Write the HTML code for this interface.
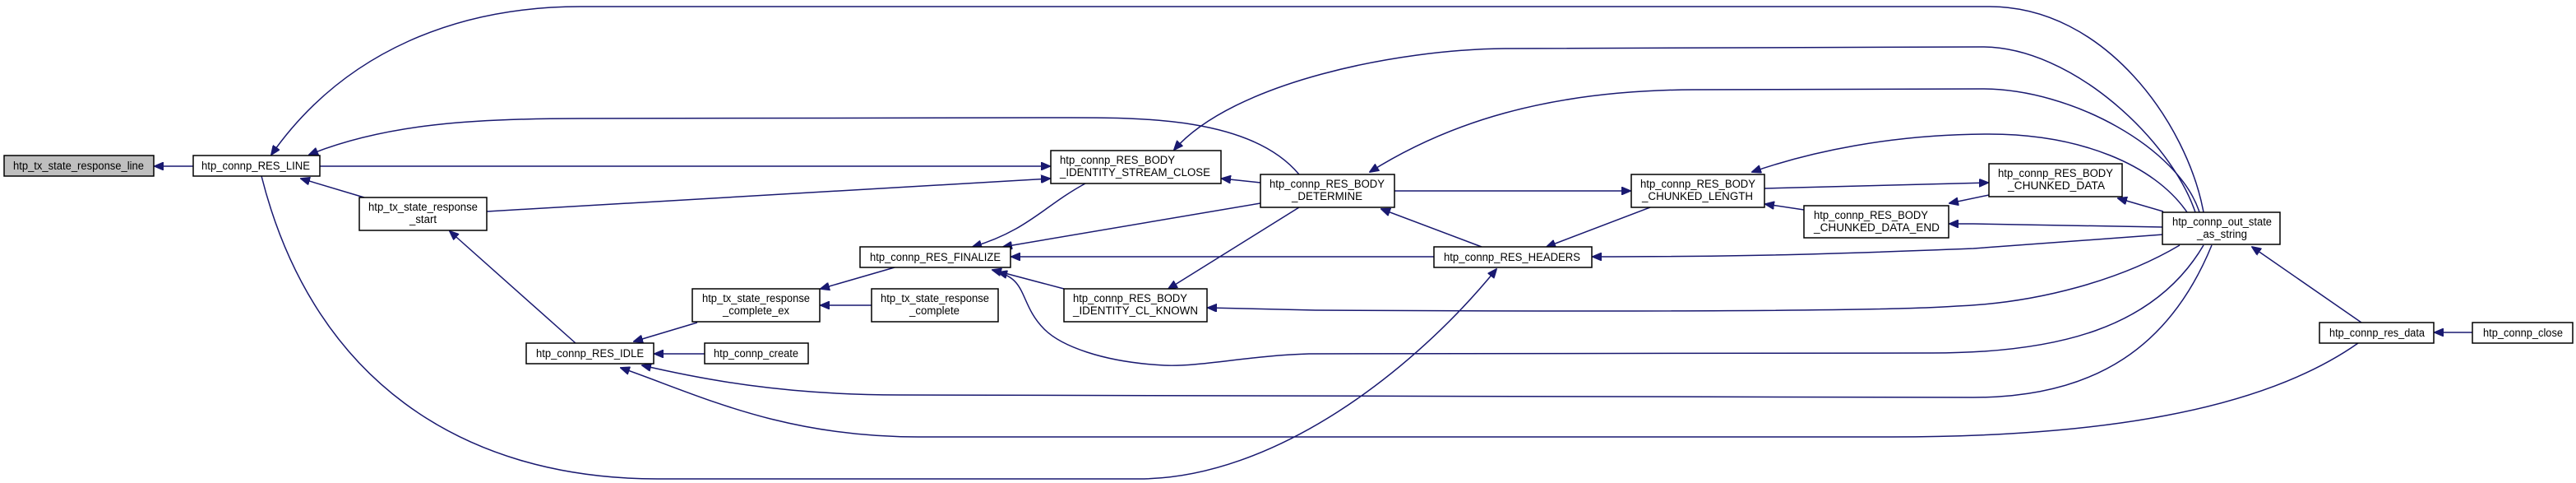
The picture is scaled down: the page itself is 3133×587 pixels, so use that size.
<!DOCTYPE html>
<html><head><meta charset="utf-8"><style>
html,body{margin:0;padding:0;background:#fff;}
svg{display:block;}
text{font-family:"Liberation Sans",Arial,sans-serif;font-size:13.5px;fill:#000;}
.e{fill:none;stroke:#191970;stroke-width:1.5;}
.n{fill:#fff;stroke:#000;stroke-width:1.5;}
</style></head><body>
<svg width="3133" height="587" viewBox="0 0 3133 587" xmlns="http://www.w3.org/2000/svg">
<defs><marker id="a" markerUnits="userSpaceOnUse" markerWidth="12" markerHeight="10" refX="11" refY="5" orient="auto"><path d="M0,0 L12,5 L0,10 z" fill="#191970" stroke="#191970"/></marker></defs>
<g marker-end="url(#a)">
<path class="e" d="M235,202 L188,202"/>
<path class="e" d="M2680,258 C2660,150 2560,8 2420,8 L706,8 C560,8 420,60 330,188"/>
<path class="e" d="M1580,212 C1520,140 1380,143 1287,143 L706,144 C580,144 470,150 376,188"/>
<path class="e" d="M389,202 L1277,202"/>
<path class="e" d="M443,240 L366,217"/>
<path class="e" d="M592,257 L1277,217"/>
<path class="e" d="M700,417 L547,281"/>
<path class="e" d="M318,214 C380,460 560,582 800,582 L1385,582 C1550,582 1720,450 1820,327"/>
<path class="e" d="M848,392 L771,415"/>
<path class="e" d="M857,430 L796,430"/>
<path class="e" d="M2690,298 C2640,420 2550,483 2400,483 L1094,480 C950,480 850,460 781,444"/>
<path class="e" d="M2868,417 C2750,500 2550,531 2300,531 L1117,531 C950,531 850,480 755,447"/>
<path class="e" d="M1533,222 L1486,217"/>
<path class="e" d="M1320,223 C1270,250 1250,280 1183,300"/>
<path class="e" d="M1533,247 L1220,300"/>
<path class="e" d="M1744,312 L1230,312"/>
<path class="e" d="M1580,252 L1421,351"/>
<path class="e" d="M1294,351 L1207,328"/>
<path class="e" d="M2680,298 C2620,400 2500,429 2350,429 L1592,430 C1520,432 1460,446 1416,444 C1340,440 1290,420 1270,400 C1240,370 1250,340 1214,331"/>
<path class="e" d="M1088,325 L998,351"/>
<path class="e" d="M1060,371 L998,371"/>
<path class="e" d="M1802,300 L1680,254"/>
<path class="e" d="M2007,252 L1881,300"/>
<path class="e" d="M1696,232 L1983,232"/>
<path class="e" d="M2146,229 L2418,222"/>
<path class="e" d="M2419,237 L2371,247"/>
<path class="e" d="M2631,276 L2400,272 L2371,272"/>
<path class="e" d="M2194,255 L2147,248"/>
<path class="e" d="M2631,257 L2576,241"/>
<path class="e" d="M2872,392 L2739,300"/>
<path class="e" d="M3007,404 L2961,404"/>
<path class="e" d="M2631,285 L2400,302 C2200,310 2100,312 1937,312"/>
<path class="e" d="M2651,298 C2580,340 2480,368 2380,372 C2300,378 2000,379 1600,377 L1469,374"/>
<path class="e" d="M2670,258 C2640,170 2520,57 2411,57 L1830,59 C1700,60 1500,100 1428,182"/>
<path class="e" d="M2675,258 C2650,180 2520,108 2411,108 L2059,109 C1880,110 1760,150 1666,209"/>
<path class="e" d="M2660,258 C2620,200 2530,163 2419,163 C2300,163 2200,185 2131,209"/>
</g>
<!-- nodes -->
<rect x="5" y="189" width="182" height="25" fill="#bfbfbf" stroke="#000" stroke-width="1.5"/>
<text x="16" y="206" textLength="159" lengthAdjust="spacingAndGlyphs">htp_tx_state_response_line</text>
<rect class="n" x="235" y="189" width="154" height="25"/>
<text x="245" y="206" textLength="132" lengthAdjust="spacingAndGlyphs">htp_connp_RES_LINE</text>
<rect class="n" x="437" y="240" width="155" height="40"/>
<text x="448" y="256" textLength="133" lengthAdjust="spacingAndGlyphs">htp_tx_state_response</text>
<text x="498" y="271" textLength="33" lengthAdjust="spacingAndGlyphs">_start</text>
<rect class="n" x="640" y="417" width="155" height="25"/>
<text x="652" y="434" textLength="131" lengthAdjust="spacingAndGlyphs">htp_connp_RES_IDLE</text>
<rect class="n" x="1278" y="183" width="207" height="40"/>
<text x="1289" y="199" textLength="140" lengthAdjust="spacingAndGlyphs">htp_connp_RES_BODY</text>
<text x="1289" y="214" textLength="183" lengthAdjust="spacingAndGlyphs">_IDENTITY_STREAM_CLOSE</text>
<rect class="n" x="1533" y="212" width="163" height="40"/>
<text x="1544" y="228" textLength="140" lengthAdjust="spacingAndGlyphs">htp_connp_RES_BODY</text>
<text x="1571" y="243" textLength="86" lengthAdjust="spacingAndGlyphs">_DETERMINE</text>
<rect class="n" x="1046" y="300" width="183" height="25"/>
<text x="1058" y="317" textLength="159" lengthAdjust="spacingAndGlyphs">htp_connp_RES_FINALIZE</text>
<rect class="n" x="842" y="351" width="155" height="40"/>
<text x="854" y="367" textLength="131" lengthAdjust="spacingAndGlyphs">htp_tx_state_response</text>
<text x="879" y="382" textLength="81" lengthAdjust="spacingAndGlyphs">_complete_ex</text>
<rect class="n" x="1060" y="351" width="154" height="40"/>
<text x="1071" y="367" textLength="132" lengthAdjust="spacingAndGlyphs">htp_tx_state_response</text>
<text x="1106" y="382" textLength="61" lengthAdjust="spacingAndGlyphs">_complete</text>
<rect class="n" x="1294" y="351" width="174" height="40"/>
<text x="1305" y="367" textLength="139" lengthAdjust="spacingAndGlyphs">htp_connp_RES_BODY</text>
<text x="1305" y="382" textLength="152" lengthAdjust="spacingAndGlyphs">_IDENTITY_CL_KNOWN</text>
<rect class="n" x="857" y="417" width="126" height="25"/>
<text x="868" y="434" textLength="103" lengthAdjust="spacingAndGlyphs">htp_connp_create</text>
<rect class="n" x="1744" y="300" width="192" height="25"/>
<text x="1756" y="317" textLength="166" lengthAdjust="spacingAndGlyphs">htp_connp_RES_HEADERS</text>
<rect class="n" x="1984" y="212" width="162" height="40"/>
<text x="1995" y="228" textLength="140" lengthAdjust="spacingAndGlyphs">htp_connp_RES_BODY</text>
<text x="1997" y="243" textLength="135" lengthAdjust="spacingAndGlyphs">_CHUNKED_LENGTH</text>
<rect class="n" x="2194" y="250" width="176" height="39"/>
<text x="2206" y="266" textLength="139" lengthAdjust="spacingAndGlyphs">htp_connp_RES_BODY</text>
<text x="2206" y="281" textLength="153" lengthAdjust="spacingAndGlyphs">_CHUNKED_DATA_END</text>
<rect class="n" x="2419" y="199" width="162" height="40"/>
<text x="2430" y="215" textLength="140" lengthAdjust="spacingAndGlyphs">htp_connp_RES_BODY</text>
<text x="2442" y="230" textLength="118" lengthAdjust="spacingAndGlyphs">_CHUNKED_DATA</text>
<rect class="n" x="2630" y="258" width="143" height="39"/>
<text x="2642" y="274" textLength="121" lengthAdjust="spacingAndGlyphs">htp_connp_out_state</text>
<text x="2672" y="289" textLength="61" lengthAdjust="spacingAndGlyphs">_as_string</text>
<rect class="n" x="2821" y="392" width="139" height="25"/>
<text x="2833" y="409" textLength="116" lengthAdjust="spacingAndGlyphs">htp_connp_res_data</text>
<rect class="n" x="3007" y="392" width="122" height="25"/>
<text x="3020" y="409" textLength="97" lengthAdjust="spacingAndGlyphs">htp_connp_close</text>
</svg>
</body></html>
